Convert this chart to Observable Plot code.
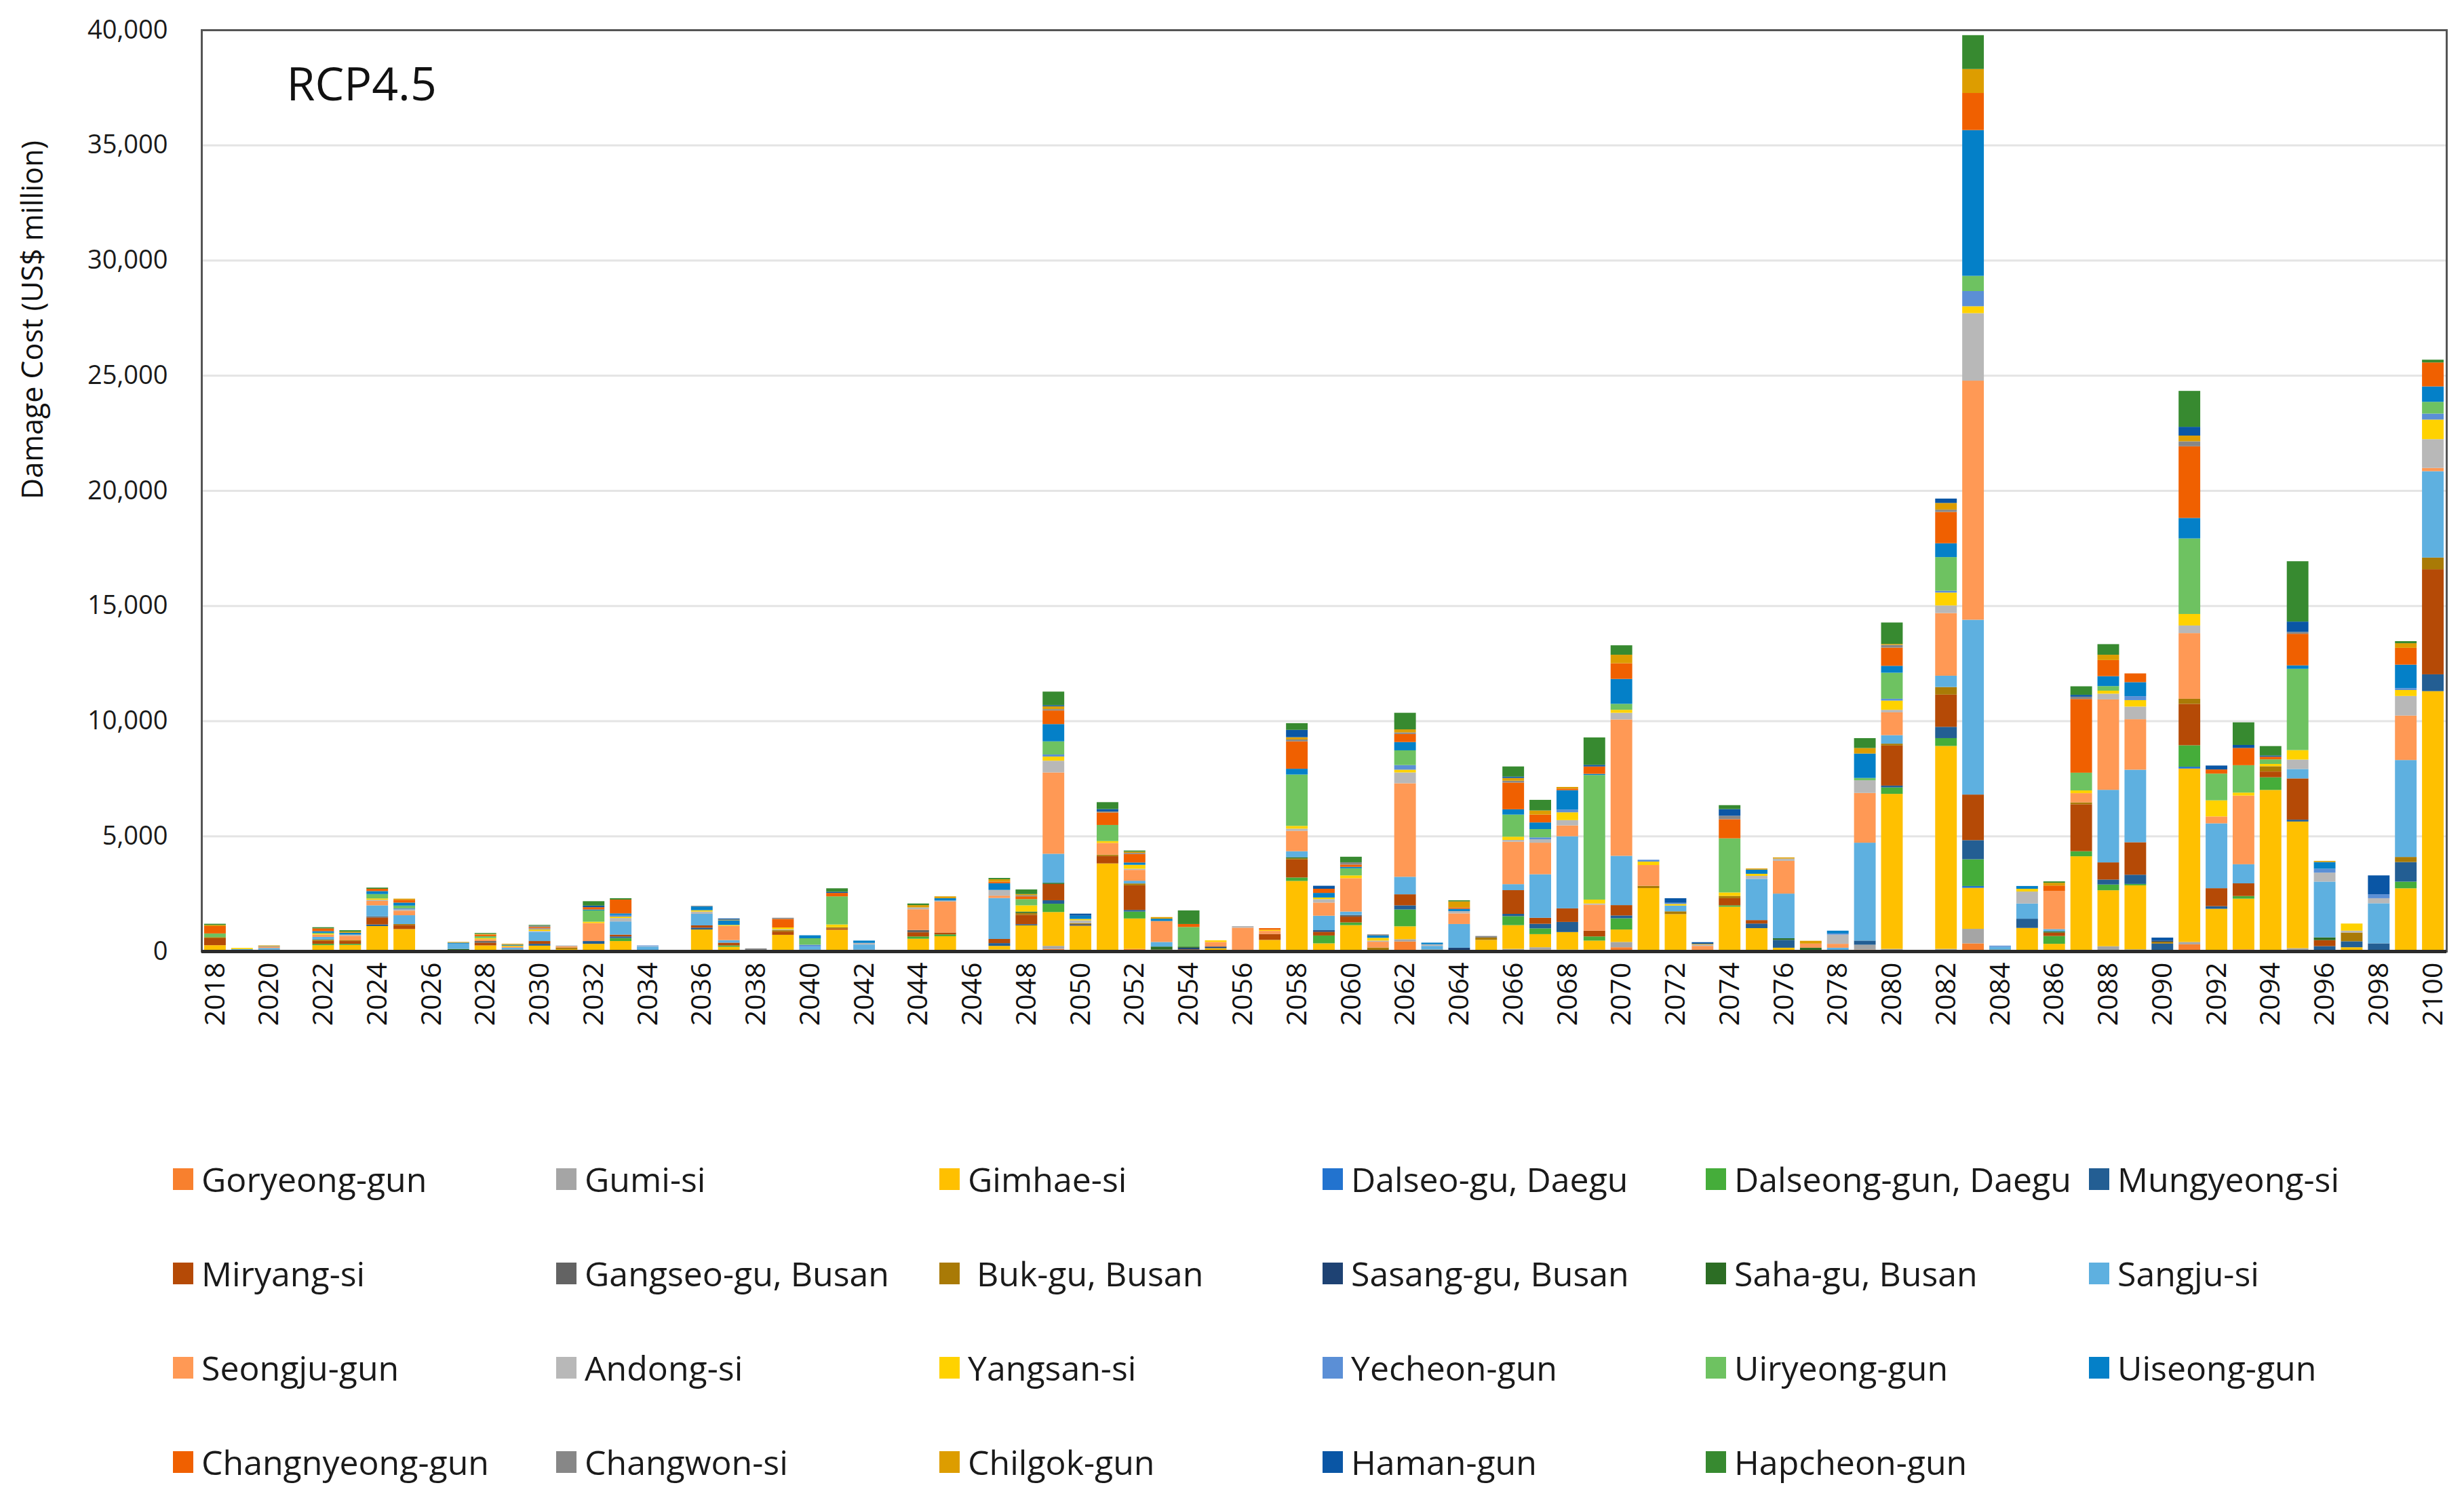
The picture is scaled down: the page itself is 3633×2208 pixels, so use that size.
<!DOCTYPE html>
<html>
<head>
<meta charset="utf-8">
<script src="https://cdn.jsdelivr.net/npm/d3@7"></script>
<script src="https://cdn.jsdelivr.net/npm/@observablehq/plot@0.6"></script>
<style>
  html, body { margin: 0; padding: 0; background: #fff; }
  body { width: 3633px; height: 2208px; overflow: hidden; font-family: "Open Sans", sans-serif; }
  #legend {
    position: absolute; left: 255px; top: 1668px;
    display: grid; grid-template-columns: repeat(6, 565px); grid-auto-rows: 139px;
  }
  .item { display: flex; align-items: center; gap: 12px; font-size: 50px; color: #1a1a1a; white-space: pre; }
  .sw { width: 30px; height: 32px; flex: none; }
</style>
</head>
<body>
<div id="chart"></div>
<div id="legend"></div>
<script>
// ---- categories ----
const years = d3.range(2018, 2101);
const tickYears = [2018,2020,2022,2024,2026,2028,2030,2032,2034,2036,2038,2040,2042,2044,2046,2048,2050,2052,2054,2056,2058,2060,2062,2064,2066,2068,2070,2072,2074,2076,2078,2080,2082,2084,2086,2088,2090,2092,2094,2096,2098,2100];
const yTicks = [0,5000,10000,15000,20000,25000,30000,35000,40000];

const seriesNames = ["Goryeong-gun","Gumi-si","Gimhae-si","Dalseo-gu, Daegu","Dalseong-gun, Daegu","Mungyeong-si",
  "Miryang-si","Gangseo-gu, Busan","Buk-gu, Busan","Sasang-gu, Busan","Saha-gu, Busan","Sangju-si",
  "Seongju-gun","Andong-si","Yangsan-si","Yecheon-gun","Uiryeong-gun","Uiseong-gun",
  "Changnyeong-gun","Changwon-si","Chilgok-gun","Haman-gun","Hapcheon-gun"];
const seriesColors = ["#F8802E","#A5A5A5","#FFC000","#2273CF","#45AD3A","#235E93",
  "#B54A06","#636363","#A97A06","#1E4273","#2C6D24","#5EB0E0",
  "#FF9955","#B8B8B8","#FFD200","#5B8FD6","#6EC261","#0480C8",
  "#F06000","#878787","#DD9D00","#0A56A5","#378A30"];

// ---- series values: [year, US$ million] ----
const goryeong = [[2049,100],[2052,100],[2062,420],[2066,50],[2067,70],[2069,70],[2070,170],[2078,50],[2079,70],[2083,340],[2086,60],[2091,300],[2093,80]];
const gumi = [[2024,40],[2036,20],[2047,70],[2049,130],[2057,50],[2058,50],[2062,100],[2066,50],[2067,100],[2068,70],[2070,230],[2079,210],[2080,100],[2082,100],[2083,630],[2088,215],[2089,80],[2091,100],[2095,130]];
const gimhae = [[2018,260],[2022,260],[2023,270],[2024,1050],[2025,960],[2026,20],[2028,250],[2030,240],[2031,90],[2032,320],[2033,440],[2036,920],[2037,190],[2039,710],[2041,930],[2044,540],[2045,650],[2047,160],[2048,1120],[2049,1470],[2050,1100],[2051,3810],[2052,1320],[2055,130],[2057,440],[2058,3000],[2059,340],[2060,1130],[2062,560],[2065,490],[2066,1030],[2067,570],[2068,760],[2069,390],[2070,540],[2071,2740],[2072,1610],[2074,1930],[2075,1000],[2076,150],[2080,6730],[2082,8810],[2083,1780],[2085,1010],[2086,260],[2087,4120],[2088,2430],[2089,2780],[2091,7530],[2092,1840],[2093,2200],[2094,7000],[2095,5500],[2097,170],[2099,2730],[2100,11290]];
const dalseo = [[2083,80],[2091,80]];
const dalseong = [[2022,60],[2023,50],[2027,30],[2033,130],[2037,60],[2044,100],[2045,80],[2049,360],[2052,300],[2058,150],[2059,340],[2060,120],[2062,730],[2066,390],[2067,250],[2069,180],[2070,490],[2074,60],[2080,280],[2082,340],[2083,1160],[2086,340],[2087,220],[2088,250],[2089,60],[2091,930],[2093,115],[2094,550],[2099,290]];
const mungyeong = [[2019,30],[2020,70],[2024,70],[2030,80],[2032,120],[2033,70],[2036,80],[2047,120],[2048,50],[2049,150],[2052,70],[2062,180],[2066,100],[2067,200],[2068,440],[2070,120],[2075,200],[2076,340],[2079,180],[2080,80],[2082,490],[2083,830],[2085,400],[2088,215],[2089,400],[2090,330],[2092,115],[2095,80],[2096,220],[2097,260],[2098,340],[2099,850],[2100,730]];
const miryang = [[2018,300],[2022,130],[2023,120],[2024,300],[2025,180],[2028,120],[2029,70],[2030,120],[2033,80],[2036,100],[2037,120],[2039,140],[2041,60],[2044,180],[2045,80],[2047,180],[2048,410],[2049,710],[2051,320],[2052,1070],[2053,70],[2054,80],[2057,260],[2058,780],[2059,160],[2060,250],[2062,480],[2066,1030],[2067,260],[2068,590],[2069,250],[2070,450],[2074,310],[2075,150],[2080,1740],[2082,1400],[2083,1980],[2086,150],[2087,2040],[2088,745],[2089,1410],[2091,1800],[2092,780],[2093,550],[2094,250],[2095,1790],[2096,260],[2100,4560]];
const gangseo = [[2024,50],[2028,70],[2044,100],[2050,80],[2060,70],[2061,60]];
const bukgu = [[2018,50],[2022,50],[2023,30],[2025,40],[2031,70],[2039,60],[2041,50],[2048,80],[2050,40],[2051,60],[2052,80],[2058,50],[2061,100],[2063,70],[2065,100],[2071,100],[2072,120],[2074,100],[2080,80],[2082,330],[2087,80],[2090,80],[2091,220],[2094,230],[2097,380],[2099,220],[2100,510]];
const sasang = [[2040,70],[2042,70],[2054,70],[2055,70],[2059,70],[2064,150],[2090,50]];
const saha = [[2027,70],[2048,60],[2049,50],[2053,130],[2054,50],[2058,50],[2076,70],[2077,150],[2084,70],[2086,50],[2096,120]];
const sangju = [[2019,60],[2020,70],[2022,120],[2024,480],[2025,380],[2027,230],[2029,80],[2030,400],[2033,570],[2034,200],[2036,500],[2037,110],[2040,130],[2042,220],[2047,1780],[2049,1260],[2052,120],[2053,200],[2058,260],[2059,630],[2060,150],[2062,760],[2063,160],[2064,1030],[2066,260],[2067,1890],[2068,3130],[2070,2140],[2072,250],[2075,1790],[2076,1940],[2078,100],[2079,4250],[2080,370],[2082,490],[2083,7590],[2084,120],[2085,660],[2086,100],[2088,3150],[2089,3150],[2092,2815],[2093,830],[2095,410],[2096,2420],[2098,1740],[2099,4210],[2100,3750]];
const seongju = [[2020,60],[2022,100],[2023,200],[2024,190],[2025,200],[2028,80],[2029,50],[2031,50],[2032,780],[2037,620],[2044,900],[2045,1340],[2047,100],[2049,3530],[2051,510],[2052,470],[2053,910],[2055,200],[2056,1020],[2057,130],[2058,880],[2059,570],[2060,1450],[2061,250],[2062,4060],[2064,460],[2066,1840],[2067,1370],[2068,470],[2069,1130],[2070,5920],[2071,900],[2073,230],[2076,1420],[2077,180],[2078,170],[2079,2160],[2080,990],[2082,2720],[2083,10380],[2086,1650],[2087,400],[2088,3925],[2089,2190],[2091,2850],[2092,300],[2093,2980],[2099,1930],[2100,140]];
const andong = [[2023,50],[2024,50],[2025,50],[2030,40],[2031,40],[2033,150],[2034,20],[2036,100],[2039,40],[2042,70],[2044,80],[2045,50],[2047,250],[2049,510],[2050,120],[2052,50],[2056,70],[2058,100],[2059,150],[2061,50],[2062,470],[2063,70],[2064,100],[2066,80],[2067,150],[2068,230],[2069,50],[2070,290],[2073,60],[2075,130],[2076,100],[2078,400],[2079,550],[2080,110],[2082,330],[2083,2930],[2085,520],[2088,250],[2089,550],[2091,330],[2095,410],[2096,390],[2097,80],[2098,220],[2099,850],[2100,1250]];
const yangsan = [[2019,50],[2022,40],[2024,60],[2028,50],[2029,40],[2030,70],[2032,60],[2033,60],[2036,60],[2037,40],[2039,80],[2041,120],[2048,270],[2049,180],[2050,60],[2051,80],[2052,170],[2055,70],[2057,50],[2058,120],[2059,70],[2060,120],[2061,120],[2062,120],[2066,140],[2068,340],[2069,170],[2070,130],[2071,150],[2072,70],[2074,150],[2075,90],[2080,400],[2082,560],[2083,300],[2085,120],[2087,120],[2088,130],[2089,280],[2091,500],[2092,700],[2093,130],[2094,100],[2095,410],[2097,310],[2099,260],[2100,850]];
const yecheon = [[2025,50],[2030,40],[2033,70],[2034,30],[2040,80],[2049,90],[2062,200],[2067,80],[2068,120],[2071,80],[2072,50],[2078,50],[2080,80],[2082,80],[2083,660],[2084,50],[2089,170],[2096,170],[2098,170],[2099,80],[2100,260]];
const uiryeong = [[2018,160],[2022,40],[2024,190],[2025,120],[2028,80],[2032,490],[2038,60],[2040,280],[2041,1220],[2048,270],[2049,570],[2051,700],[2054,850],[2058,2230],[2060,310],[2062,640],[2066,960],[2067,360],[2069,5410],[2070,260],[2074,2350],[2079,100],[2080,1130],[2082,1460],[2083,660],[2087,770],[2088,200],[2091,3280],[2092,1160],[2093,1190],[2094,200],[2095,3530],[2100,510]];
const uiseong = [[2020,20],[2022,70],[2023,80],[2024,130],[2025,130],[2027,40],[2029,40],[2032,40],[2033,70],[2036,160],[2037,200],[2040,130],[2042,100],[2045,100],[2047,290],[2049,750],[2050,140],[2052,100],[2053,100],[2058,250],[2059,200],[2060,60],[2061,100],[2062,360],[2063,70],[2064,100],[2066,230],[2067,290],[2068,840],[2069,50],[2070,1080],[2075,180],[2078,120],[2079,1060],[2080,300],[2082,600],[2083,6330],[2085,120],[2088,430],[2089,610],[2091,890],[2095,150],[2096,290],[2099,1020],[2100,670]];
const changnyeong = [[2018,320],[2022,120],[2024,100],[2025,120],[2028,70],[2030,60],[2032,100],[2033,600],[2039,370],[2041,150],[2047,70],[2048,120],[2049,590],[2051,540],[2052,370],[2054,130],[2057,70],[2058,1190],[2059,180],[2060,100],[2062,350],[2064,60],[2066,1160],[2067,340],[2068,70],[2069,320],[2070,680],[2074,830],[2080,790],[2082,1360],[2083,1610],[2086,240],[2087,3200],[2088,700],[2089,380],[2091,3110],[2092,180],[2093,750],[2094,115],[2095,1370],[2099,730],[2100,1040]];
const changwon = [[2030,60],[2036,30],[2038,60],[2039,50],[2048,50],[2049,60],[2051,50],[2052,50],[2058,80],[2060,100],[2061,50],[2062,70],[2065,70],[2066,80],[2074,150],[2080,120],[2082,100],[2087,100],[2091,215],[2095,80]];
const chilgok = [[2018,50],[2020,30],[2023,50],[2025,50],[2026,20],[2027,30],[2028,30],[2029,40],[2037,30],[2044,100],[2045,80],[2047,100],[2048,50],[2049,120],[2052,50],[2053,70],[2058,100],[2062,130],[2064,260],[2066,120],[2067,180],[2068,70],[2070,370],[2073,30],[2075,50],[2076,50],[2077,120],[2079,240],[2080,40],[2082,290],[2083,1040],[2086,120],[2088,230],[2091,250],[2096,50],[2099,200]];
const haman = [[2032,70],[2037,50],[2041,50],[2049,50],[2050,90],[2051,100],[2058,320],[2059,130],[2066,60],[2069,70],[2072,200],[2073,70],[2074,290],[2082,190],[2087,80],[2090,130],[2091,380],[2092,170],[2093,130],[2094,50],[2095,450],[2098,820]];
const hapcheon = [[2018,50],[2022,50],[2023,60],[2024,50],[2028,40],[2030,30],[2032,190],[2033,60],[2041,150],[2044,70],[2047,60],[2048,200],[2049,590],[2051,300],[2052,50],[2054,590],[2058,290],[2060,240],[2062,720],[2064,50],[2066,440],[2067,460],[2069,1190],[2070,410],[2074,170],[2079,430],[2080,930],[2083,1470],[2086,60],[2087,370],[2088,460],[2091,1560],[2093,980],[2094,410],[2095,2620],[2099,90],[2100,120]];

const seriesValues = [goryeong,gumi,gimhae,dalseo,dalseong,mungyeong,miryang,gangseo,bukgu,sasang,saha,sangju,
  seongju,andong,yangsan,yecheon,uiryeong,uiseong,changnyeong,changwon,chilgok,haman,hapcheon];

const table = [];
seriesNames.forEach((name, i) => {
  for (const [year, value] of seriesValues[i]) table.push({year, series: name, value});
});

const chart = Plot.plot({
  width: 3633,
  height: 1560,
  marginLeft: 297,
  marginRight: 26,
  marginTop: 44,
  marginBottom: 158,
  style: {background: "#fff"},
  x: {type: "band", domain: years, paddingInner: 0.2, paddingOuter: 0.1},
  y: {domain: [0, 40000]},
  color: {domain: seriesNames, range: seriesColors},
  marks: [
    Plot.gridY(yTicks, {stroke: "#e4e4e4", strokeOpacity: 1, strokeWidth: 3}),
    Plot.barY(table, {x: "year", y: "value", fill: "series", z: "series", order: seriesNames}),
    Plot.axisY(yTicks, {tickSize: 0, tickPadding: 50, tickFormat: d3.format(","), label: null,
      fontSize: 38, fontFamily: "Open Sans", fill: "#1a1a1a"}),
    Plot.axisX(tickYears, {tickSize: 0, tickPadding: 16, tickRotate: -90, label: null,
      fontSize: 41, fontFamily: "Open Sans", fontWeight: 500, fill: "#111", tickFormat: d => String(d)}),
    Plot.frame({stroke: "#555", strokeWidth: 3}),
    Plot.ruleY([0], {stroke: "#2a2a2a", strokeWidth: 5}),
    Plot.text(["Damage Cost (US$ million)"], {frameAnchor: "left", textAnchor: "middle", dx: -248, dy: -252, rotate: -90,
      fontSize: 43, fontFamily: "Open Sans", fill: "#111"}),
    Plot.text(["RCP4.5"], {frameAnchor: "top-left", dx: 125, dy: 82, textAnchor: "start", lineAnchor: "middle",
      fontSize: 68, fontFamily: "Open Sans", fill: "#111"})
  ]
});
document.getElementById("chart").appendChild(chart);

const legend = document.getElementById("legend");
seriesNames.forEach((name, i) => {
  const item = document.createElement("div");
  item.className = "item";
  const sw = document.createElement("span");
  sw.className = "sw";
  sw.style.background = seriesColors[i];
  const label = document.createElement("span");
  label.textContent = name === "Buk-gu, Busan" ? " " + name : name;
  item.appendChild(sw);
  item.appendChild(label);
  legend.appendChild(item);
});
</script>
</body>
</html>
